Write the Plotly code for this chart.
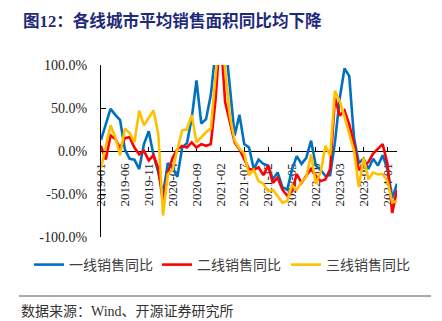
import plotly.graph_objects as go

# Monthly categories, 2019-01 .. 2024-03
months = [f"{y}-{m:02d}" for y in range(2019, 2025) for m in range(1, 13)][:63]
tick_labels = months[::5]
y_ticks = [-100, -50, 0, 50, 100]
y_tick_text = [f"{v:.1f}%" for v in y_ticks]

# Year-on-year change of average sales area (%)
tier1_yoy = [13, 32, 49, 42, 36, 2, -9, -10, -21, 8, 23, -5,
             -25, -50, -14, -20, -30, 4, 9, 38, 82, 32, 37, 65,
             130, 170, 130, 75, 18, 42, 8, 4, -21, -10, -15, -17,
             -33, -25, -42, -45, -22, -6, -15, -8, 12, -17, -22, -29,
             -28, 10, 61, 96, 87, 15, -14, -9, -21, -9, -17, -5,
             -21, -55, -38]
tier2_yoy = [6, -10, 18, 14, 3, 15, 16, 4, -4, 0, -11, -5,
             -20, -60, -25, -8, 2, 6, 4, 10, 4, 8, 6, 8,
             60, 140, 57, 34, 10, 2, -9, -21, -22, -19, -28, -17,
             -37, -31, -45, -52, -47, -27, -37, -29, -21, -29, -35, -33,
             -21, 62, 41, 47, 31, 8, -22, -17, -13, -3, 3, 8,
             -15, -72, -45]
tier3_yoy = [-20, 5, 30, 16, -5, 26, 21, 10, 47, 30, 38, 47,
             20, -75, -27, -22, 2, 24, 25, 42, 10, 16, 22, 26,
             80, 150, 95, 40, 12, 3, -3, -28, -22, -35, -38, -47,
             -45, -52, -60, -58, -40, -45, -36, -30, -4, -38, -25, 6,
             -5, 70, 58, 40, 20, 0, -42, -8, -33, -25, -27, -27,
             -35, -60, -58]

series = [
    ("一线销售同比", tier1_yoy, "#0070C0"),
    ("二线销售同比", tier2_yoy, "#FF0000"),
    ("三线销售同比", tier3_yoy, "#FFC000"),
]

W, H = 442, 321
L, R, T, B = 101, 45, 65, 84
pw, ph = W - L - R, H - T - B


def px(x):
    return (x - L) / pw


def py(y):
    return (H - B - y) / ph


serif = "Liberation Serif, 'Times New Roman', serif"
cjk = "'Noto Sans CJK SC', sans-serif"

fig = go.Figure()
legend_ids = ["legend", "legend2", "legend3"]
legend_left = [29, 157, 286]
for (name, vals, color), lid in zip(series, legend_ids):
    fig.add_trace(go.Scatter(
        x=months, y=vals, name=name, mode="lines",
        line=dict(color=color, width=2.6), legend=lid,
    ))

legend_style = dict(
    orientation="h", xanchor="left", y=py(265), yanchor="middle",
    font=dict(family=cjk, size=14, color="#404040"),
    bgcolor="rgba(0,0,0,0)", itemwidth=30, borderwidth=0,
)
for lid, left in zip(legend_ids, legend_left):
    fig.update_layout({lid: dict(legend_style, x=px(left))})

fig.update_layout(
    width=W, height=H,
    margin=dict(l=L, r=R, t=T, b=B),
    paper_bgcolor="white", plot_bgcolor="white",
    showlegend=True,
    xaxis=dict(
        type="category", range=[0, len(months) - 1],
        tickmode="array", tickvals=tick_labels, ticktext=tick_labels,
        tickangle=-90, ticks="inside", ticklen=4, tickcolor="#000",
        showline=True, linecolor="#000", linewidth=1,
        showgrid=False, zeroline=False,
        anchor="free", position=0.5,
        tickfont=dict(family=serif, size=13, color="#222"),
        ticklabelstandoff=6,
        layer="below traces",
    ),
    yaxis=dict(
        range=[-100, 100], tickmode="array",
        tickvals=y_ticks, ticktext=y_tick_text,
        ticks="inside", ticklen=5, tickcolor="#000",
        showline=True, linecolor="#000", linewidth=1,
        showgrid=False, zeroline=False,
        tickfont=dict(family=serif, size=14, color="#222"),
        ticklabelstandoff=10,
    ),
)

# Title
fig.add_annotation(
    xref="paper", yref="paper", x=px(21), y=py(21), xanchor="left", yanchor="middle",
    text="<b>图12：各线城市平均销售面积同比均下降</b>", showarrow=False,
    font=dict(family="Liberation Serif, " + cjk, size=16.6, color="#1F2A7A"),
)

# Source rule and note
fig.add_shape(
    type="line", xref="paper", yref="paper",
    x0=px(19), x1=px(431), y0=py(296), y1=py(296),
    line=dict(color="#555", width=1),
)
fig.add_annotation(
    xref="paper", yref="paper", x=px(19), y=py(311), xanchor="left", yanchor="middle",
    text="数据来源：Wind、开源证券研究所", showarrow=False,
    font=dict(family="Liberation Serif, " + cjk, size=14, color="#333"),
)

fig.write_html("out.html")
